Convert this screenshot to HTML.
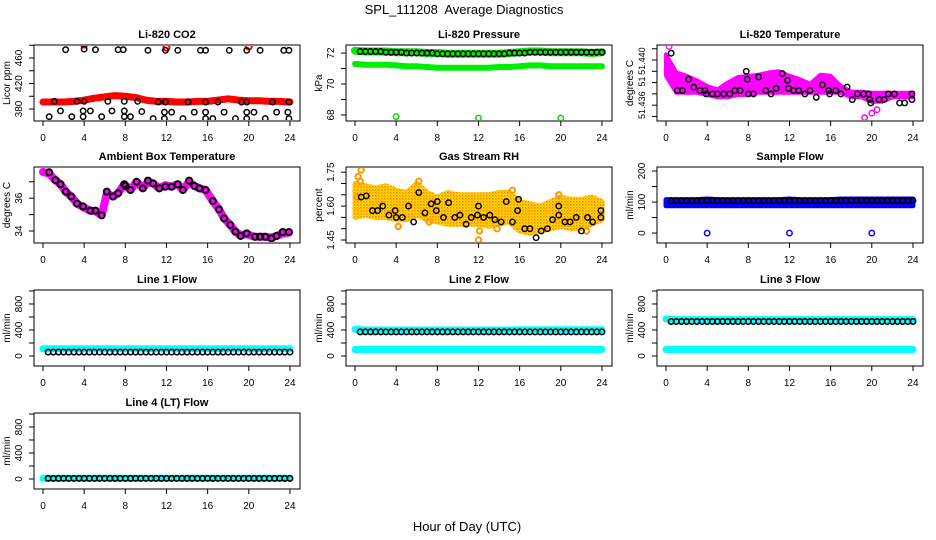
<!DOCTYPE html>
<html><head><meta charset="utf-8"><style>
html,body{margin:0;padding:0;background:#fff;}
svg{display:block;font-family:"Liberation Sans",Arial,sans-serif;}
</style></head><body>
<svg id="chart" width="936" height="540" viewBox="0 0 936 540" xmlns="http://www.w3.org/2000/svg">
<rect x="0" y="0" width="936" height="540" fill="#fff"/>
<text x="464" y="14" font-size="13" text-anchor="middle" style="white-space:pre">SPL_111208  Average Diagnostics</text>
<text x="467" y="531" font-size="13" text-anchor="middle">Hour of Day (UTC)</text>
</svg>
<script>
// ---------- data ----------
const hours = [0,1,2,3,4,5,6,7,8,9,10,11,12,13,14,15,16,17,18,19,20,21,22,23,24];
const xTicks = [0,4,8,12,16,20,24];

// CO2
const co2Red = [391,391,391,392,394,397,399,401,400,398,394,392,392,391,391,392,392,394,396,394,393,393,392,392,391];
const co2RedOutX = [4,12,20];
const co2RedOutY = [481,476,478];
const co2BlackX = [2.2,4,5.1,7.3,7.8,10.2,11.9,13.1,15.3,15.8,18.1,19.8,21.1,23.4,23.9, 1.1,3.3,4,6.3,7.9,9.2,11.2,11.9,14.1,15.8,17,19.3,19.8,22.3,23.9, 0.6,1.7,2.8,3.9,3.9,4.6,5.7,6.7,7.9,7.9,8.5,9.6,10.7,11.8,11.8,12.5,13.6,14.7,15.8,15.8,16.5,17.6,18.7,19.8,19.8,20.5,21.6,22.7,23.8,23.9];
const co2BlackY = [473,474,473,473,473,472,472,472,472,472,472,472,472,472,472, 392,392,392,392,392,392,391,391,391,391,391,391,391,391,391, 368,377,368,368,377,377,368,377,377,368,368,376,365,365,375,375,365,375,375,365,365,375,365,375,365,375,365,375,375,365];

// Pressure
const presBlack = [72.1,72.1,72.1,72.05,72.05,72.0,72.0,72.0,71.95,71.95,71.95,71.95,71.95,71.95,71.95,72.0,72.0,72.05,72.05,72.05,72.05,72.05,72.05,72.05,72.05];
const presGreenHi = [72.15,72.1,72.1,72.1,72.05,72.05,72.05,72.0,72.0,71.95,71.95,71.95,71.95,71.95,71.95,72.0,72.05,72.1,72.1,72.05,72.05,72.05,72.05,72.0,72.05];
const presGreenLo = [71.3,71.25,71.25,71.25,71.2,71.15,71.15,71.1,71.05,71.05,71.05,71.05,71.05,71.05,71.1,71.1,71.15,71.2,71.2,71.15,71.15,71.15,71.15,71.15,71.15];
const presOutX = [4,12,20];
const presOutY = [67.9,67.8,67.8];

// Li-820 temperature
const ltUpper = [51.4405,51.4389,51.4386,51.4382,51.4377,51.4374,51.4380,51.4385,51.4386,51.4387,51.4389,51.4390,51.4386,51.4383,51.4379,51.4387,51.4386,51.4377,51.4372,51.4372,51.4371,51.4371,51.4371,51.4371,51.4371];
const ltLower = [51.4386,51.4371,51.4371,51.4371,51.4369,51.4367,51.4367,51.4369,51.4369,51.4371,51.4371,51.4371,51.4371,51.4371,51.4371,51.4371,51.4371,51.4371,51.4367,51.4367,51.4363,51.4363,51.4367,51.4367,51.4367];
const ltPinkOutX = [0.3,19.3,20.0,20.5];
const ltPinkOutY = [51.4412,51.4349,51.4353,51.4356];
const ltBlackX = [0.5,1.1,1.6,2.2,2.7,3.3,3.8,3.9,4.5,5.0,5.6,6.2,6.7,7.2,7.8,7.9,8.0,8.5,9.0,9.7,10.2,10.7,11.3,11.8,11.9,12.4,12.9,13.5,14.0,14.6,15.2,15.8,15.9,16.5,17.0,17.6,18.1,18.6,19.2,19.7,19.8,19.9,20.7,21.2,21.6,22.2,22.7,23.2,23.9,23.9];
const ltBlackY = [51.4406,51.4373,51.4373,51.4383,51.4376,51.4373,51.4373,51.4370,51.4370,51.4370,51.4370,51.4370,51.4373,51.4373,51.4390,51.4383,51.4370,51.4370,51.4385,51.4373,51.4370,51.4375,51.4388,51.4382,51.4375,51.4373,51.4373,51.4370,51.4373,51.4367,51.4378,51.4373,51.4370,51.4373,51.4370,51.4376,51.4365,51.4370,51.4370,51.4370,51.4365,51.4362,51.4365,51.4365,51.4370,51.4370,51.4362,51.4362,51.4365,51.4370];

// Ambient box temperature
const ambX = [0.6,1.2,1.7,2.2,2.75,3.3,3.9,4.6,5.1,5.7,6.2,6.8,7.3,7.9,8.0,8.5,9.1,9.7,10.2,10.7,11.3,11.9,12.5,13.1,13.6,14.2,14.7,15.2,15.8,16.5,17.1,17.6,18.2,18.7,19.2,19.8,20.6,21.1,21.6,22.2,22.7,23.3,23.9];
const ambY = [37.58,37.1,36.85,36.4,36.1,35.67,35.5,35.24,35.24,34.96,36.4,36.1,36.3,36.85,36.75,36.5,37.0,36.6,37.07,36.9,36.6,36.7,36.7,36.85,36.5,37.07,36.75,36.6,36.5,35.83,35.32,34.77,34.37,33.96,33.7,33.86,33.65,33.65,33.65,33.55,33.7,33.94,33.94];
const ambMagX = [0,0.6,1.2,1.7,2.2,2.75,3.3,3.9,4.6,5.1,5.7,6.2,6.8,7.3,7.9,8.5,9.1,9.7,10.2,10.7,11.3,11.9,12.5,13.1,13.6,14.2,14.7,15.2,15.8,16.5,17.1,17.6,18.2,18.7,19.2,19.8,20.6,21.1,21.6,22.2,22.7,23.3,23.9];
const ambMagY = [37.6,37.5,37.1,36.85,36.4,36.1,35.67,35.45,35.24,35.2,34.96,36.3,36.1,36.3,36.85,36.5,37.0,36.6,37.0,36.9,36.6,36.8,36.7,36.85,36.5,37.0,36.75,36.6,36.5,35.83,35.32,34.77,34.37,33.96,33.75,33.8,33.65,33.65,33.65,33.6,33.7,33.85,33.9];

// Gas stream RH
const rhUpper = [1.70,1.69,1.68,1.69,1.67,1.66,1.70,1.66,1.64,1.66,1.65,1.65,1.65,1.65,1.66,1.66,1.62,1.61,1.60,1.62,1.64,1.63,1.63,1.64,1.62];
const rhLower = [1.55,1.56,1.55,1.55,1.54,1.54,1.56,1.54,1.53,1.52,1.52,1.52,1.52,1.51,1.52,1.53,1.49,1.48,1.49,1.50,1.51,1.50,1.50,1.52,1.54];
const rhOutX = [0.3,0.5,0.6,0.2,4.2,6.2,12.0,12.1,15.3,19.8,22.5,7.2,13.8];
const rhOutY = [1.73,1.71,1.76,1.64,1.51,1.71,1.45,1.49,1.67,1.65,1.49,1.53,1.50];
const rhBlackX = [0.6,1.1,1.7,2.2,2.7,3.3,3.9,4.0,4.6,5.2,5.7,6.2,6.8,7.4,7.9,8.0,8.6,9.1,9.7,10.2,10.8,11.3,11.9,12.0,12.5,13.1,13.6,14.2,14.7,15.3,15.8,15.9,16.5,17.0,17.6,18.1,18.7,19.2,19.8,19.8,20.4,20.9,21.5,22.0,22.6,23.1,23.9,23.9];
const rhBlackY = [1.64,1.645,1.58,1.58,1.60,1.56,1.58,1.55,1.55,1.60,1.53,1.66,1.57,1.61,1.58,1.62,1.55,1.615,1.55,1.56,1.52,1.55,1.56,1.60,1.55,1.56,1.54,1.53,1.62,1.53,1.58,1.63,1.50,1.50,1.46,1.49,1.50,1.54,1.60,1.56,1.53,1.53,1.55,1.49,1.55,1.53,1.58,1.55];

// Sample flow
const sfBlueHi = [108,108,108,108,110,108,108,108,108,108,108,108,110,108,108,108,108,110,110,110,110,110,110,110,110];
const sfBlueLo = [88,88,88,88,88,88,88,88,88,88,88,88,88,88,88,88,88,88,88,88,88,88,88,88,88];
const sfBlack = [104,104,104,104,105,104,104,104,104,104,104,104,104,104,104,104,105,105,105,105,105,105,105,105,105];
const sfOutX = [4,12,20];
const sfOutY = [0,0,0];

// Line flows
const l1Cyan = [110,110,110,110,110,110,110,110,110,110,110,110,110,110,110,110,110,110,110,110,110,110,110,110,110];
const l1Black = [60,60,60,60,60,60,60,60,60,60,60,60,60,60,60,60,60,60,60,60,60,60,60,60,60];
const l2CyanHi = [410,400,400,400,400,400,400,400,400,400,400,400,400,400,400,400,405,405,405,405,405,405,405,405,405];
const l2CyanLo = [100,100,100,100,100,100,100,100,100,100,100,100,100,100,100,100,100,100,100,100,100,100,100,100,100];
const l2Black = [370,370,370,370,370,370,370,370,370,370,370,370,370,370,370,370,370,370,370,370,370,370,370,370,370];
const l3CyanHi = [570,560,560,560,560,560,560,560,560,560,560,560,560,560,560,560,560,560,560,560,560,560,560,560,560];
const l3CyanLo = [100,100,100,100,100,100,100,100,100,100,100,100,100,100,100,100,100,100,100,100,100,100,100,100,100];
const l3Black = [530,530,530,530,530,530,530,530,530,530,530,530,530,530,530,530,530,530,530,530,530,530,530,530,530];
const l4Cyan = [10,10,10,10,10,10,10,10,10,10,10,10,10,10,10,10,10,10,10,10,10,10,10,10,10];
const l4Black = [10,10,10,10,10,10,10,10,10,10,10,10,10,10,10,10,10,10,10,10,10,10,10,10,10];

// ---------- drawing ----------
const NS = "http://www.w3.org/2000/svg";
const svg = document.getElementById('chart');
const LEFTS = [34,346,657], TOPS = [45,167,290,413], PW = 266, PH = 76;

function el(tag, parent, attrs, name) {
  const e = document.createElementNS(NS, tag);
  
  
  for (const k in attrs) e.setAttribute(k, attrs[k]);
  parent.appendChild(e);
  return e;
}

function panel(col, row, key, title, ylab, ymin, ymax, ticks, labels, lfs) {
  const L = LEFTS[col], T = TOPS[row];
  const g = el('g', svg, {}, key + '-panel');
  const X = h => L + 9 + h * 10.29;
  const Y = v => T + PH - (v - ymin) / (ymax - ymin) * PH;
  const t = el('text', g, {x: L + PW / 2, y: T - 7, 'font-size': 11, 'font-weight': 'bold', 'text-anchor': 'middle'}, key + '-title');
  t.textContent = title;
  el('rect', g, {x: L, y: T, width: PW, height: PH, fill: 'none', stroke: '#000', 'stroke-width': 1}, key + '-plot-box');
  const xa = el('g', g, {}, key + '-x-axis');
  el('line', xa, {x1: X(0), x2: X(24), y1: T + PH, y2: T + PH, stroke: '#000'}, key + '-x-axis-line');
  xTicks.forEach(h => {
    el('line', xa, {x1: X(h), x2: X(h), y1: T + PH, y2: T + PH + 5, stroke: '#000'}, key + '-x-tick');
    const tx = el('text', xa, {x: X(h), y: T + PH + 20, 'font-size': 10, 'text-anchor': 'middle'}, key + '-x-tick-label');
    tx.textContent = h;
  });
  const ya = el('g', g, {}, key + '-y-axis');
  el('line', ya, {x1: L, x2: L, y1: Y(ticks[0]), y2: Y(ticks[ticks.length - 1]), stroke: '#000'}, key + '-y-axis-line');
  ticks.forEach(v => {
    el('line', ya, {x1: L - 5, x2: L, y1: Y(v), y2: Y(v), stroke: '#000'}, key + '-y-tick');
  });
  labels.forEach(lb => {
    const y = Y(lb[0]);
    const tx = el('text', ya, {x: L - 12, y: y, 'font-size': lfs || 10, 'text-anchor': 'middle', transform: 'rotate(-90 ' + (L - 12) + ' ' + y + ')'}, key + '-y-tick-label');
    tx.textContent = lb[1];
  });
  const yt = el('text', g, {x: L - 24, y: T + PH / 2, 'font-size': 10, 'text-anchor': 'middle', transform: 'rotate(-90 ' + (L - 24) + ' ' + (T + PH / 2) + ')'}, key + '-y-axis-title');
  yt.textContent = ylab;
  const clip = el('clipPath', g, {id: key + '-clip'}, key + '-clip');
  el('rect', clip, {x: L + 1, y: T + 1, width: PW - 2, height: PH - 2}, key + '-clip-rect');
  const data = el('g', g, {'clip-path': 'url(#' + key + '-clip)'}, key + '-data');
  return {g: data, X, Y, key};
}

function pts(p, xs, ys, color, name, r, sw) {
  xs.forEach((x, i) => {
    el('circle', p.g, {cx: p.X(x), cy: p.Y(ys[i]), r: r || 2.7, fill: 'none', stroke: color, 'stroke-width': sw || 1.5}, name);
  });
}
function band(p, xs, ys, color, width, name) {
  const d = xs.map((x, i) => (i ? 'L' : 'M') + p.X(x).toFixed(1) + ' ' + p.Y(ys[i]).toFixed(1)).join(' ');
  el('path', p.g, {d: d, fill: 'none', stroke: color, 'stroke-width': width, 'stroke-linejoin': 'round', 'stroke-linecap': 'round'}, name);
}
function area(p, xs, hi, lo, color, name, sw) {
  let d = xs.map((x, i) => (i ? 'L' : 'M') + p.X(x).toFixed(1) + ' ' + p.Y(hi[i]).toFixed(1)).join(' ');
  for (let i = xs.length - 1; i >= 0; i--) d += ' L' + p.X(xs[i]).toFixed(1) + ' ' + p.Y(lo[i]).toFixed(1);
  el('path', p.g, {d: d + ' Z', fill: color, stroke: color, 'stroke-width': sw === undefined ? 5 : sw, 'stroke-linejoin': 'round'}, name);
}
function halfHourly(p, vals, color, name) {
  vals.forEach((v, i) => {
    if (i > 0) el('circle', p.g, {cx: p.X(i), cy: p.Y(v), r: 2.7, fill: 'none', stroke: color, 'stroke-width': 1.6}, name);
    if (i < 24) el('circle', p.g, {cx: p.X(i + 0.5), cy: p.Y(v), r: 2.7, fill: 'none', stroke: color, 'stroke-width': 1.6}, name);
  });
}

// CO2
let p = panel(0, 0, 'co2', 'Li-820 CO2', 'Licor ppm', 361.2, 480.4, [380,400,420,440,460,480], [[380,'380'],[420,'420'],[460,'460']]);
band(p, hours, co2Red, '#ff0000', 7, 'co2-red-series');
pts(p, co2RedOutX, co2RedOutY, '#ff0000', 'co2-red-outlier', 3, 2);
pts(p, co2BlackX, co2BlackY, '#000', 'co2-black-point');

// Pressure
p = panel(1, 0, 'pressure', 'Li-820 Pressure', 'kPa', 67.61, 72.52, [68,69,70,71,72], [[68,'68'],[70,'70'],[72,'72']]);
band(p, hours, presGreenLo, '#00ee00', 6, 'pressure-green-low-series');
band(p, hours, presGreenHi, '#00ee00', 8, 'pressure-green-high-series');
halfHourly(p, presBlack, '#000', 'pressure-black-point');
pts(p, presOutX, presOutY, '#00dd00', 'pressure-green-outlier');

// Li-820 temperature
p = panel(2, 0, 'licor-temp', 'Li-820 Temperature', 'degrees C', 51.4346, 51.44133, [51.435,51.436,51.437,51.438,51.439,51.440,51.441], [[51.436,'51.436'],[51.4381,'51'],[51.4399,'51.440']], 9);
area(p, hours, ltUpper, ltLower, '#ff00ff', 'licor-temp-magenta-band', 4);
pts(p, ltPinkOutX, ltPinkOutY, '#ff00ff', 'licor-temp-magenta-outlier');
pts(p, ltBlackX, ltBlackY, '#000', 'licor-temp-black-point');

// Ambient
p = panel(0, 1, 'ambient', 'Ambient Box Temperature', 'degrees C', 33.27, 37.9, [34,35,36,37], [[34,'34'],[36,'36']]);
band(p, ambMagX, ambMagY, '#ff00ff', 8, 'ambient-magenta-series');
pts(p, ambX, ambY, '#000', 'ambient-black-point', 3, 2);

// RH
p = panel(1, 1, 'rh', 'Gas Stream RH', 'percent', 1.4367, 1.773, [1.45,1.50,1.55,1.60,1.65,1.70,1.75], [[1.45,'1.45'],[1.60,'1.60'],[1.75,'1.75']]);
const defs = el('defs', svg, {}, 'pattern-defs');
const pat = el('pattern', defs, {id: 'rhpat', width: 3, height: 3, patternUnits: 'userSpaceOnUse'}, 'rh-pattern');
el('rect', pat, {x: 0, y: 0, width: 3, height: 3, fill: '#ffe000'}, 'rh-pattern-bg');
el('rect', pat, {x: 0, y: 0, width: 1.5, height: 1.5, fill: '#ff8000'}, 'rh-pattern-dot');
el('rect', pat, {x: 1.5, y: 1.5, width: 1, height: 1, fill: '#ff8000'}, 'rh-pattern-dot');
area(p, hours, rhUpper, rhLower, 'url(#rhpat)', 'rh-orange-band');
pts(p, rhOutX, rhOutY, '#ff9900', 'rh-orange-outlier', 2.7, 2);
pts(p, rhBlackX, rhBlackY, '#000', 'rh-black-point');

// Sample flow
p = panel(2, 1, 'sample-flow', 'Sample Flow', 'ml/min', -32, 213, [0,50,100,150,200], [[0,'0'],[100,'100'],[200,'200']]);
area(p, hours, sfBlueHi, sfBlueLo, '#0000ff', 'sample-flow-blue-band');
halfHourly(p, sfBlack, '#000', 'sample-flow-black-point');
pts(p, sfOutX, sfOutY, '#0000ff', 'sample-flow-blue-outlier');

// Line flows
const lt = [0,200,400,600,800,1000], ll = [[0,'0'],[400,'400'],[800,'800']];
p = panel(0, 2, 'line1', 'Line 1 Flow', 'ml/min', -154, 1015, lt, ll);
band(p, hours, l1Cyan, '#00ffff', 7, 'line1-cyan-series');
halfHourly(p, l1Black, '#000', 'line1-black-point');

p = panel(1, 2, 'line2', 'Line 2 Flow', 'ml/min', -154, 1015, lt, ll);
band(p, hours, l2CyanHi, '#00ffff', 7, 'line2-cyan-high-series');
band(p, hours, l2CyanLo, '#00ffff', 7, 'line2-cyan-low-series');
halfHourly(p, l2Black, '#000', 'line2-black-point');

p = panel(2, 2, 'line3', 'Line 3 Flow', 'ml/min', -154, 1015, lt, ll);
band(p, hours, l3CyanHi, '#00ffff', 7, 'line3-cyan-high-series');
band(p, hours, l3CyanLo, '#00ffff', 7, 'line3-cyan-low-series');
halfHourly(p, l3Black, '#000', 'line3-black-point');

p = panel(0, 3, 'line4', 'Line 4 (LT) Flow', 'ml/min', -154, 1015, lt, ll);
band(p, hours, l4Cyan, '#00ffff', 7, 'line4-cyan-series');
halfHourly(p, l4Black, '#000', 'line4-black-point');
</script>
</body></html>
